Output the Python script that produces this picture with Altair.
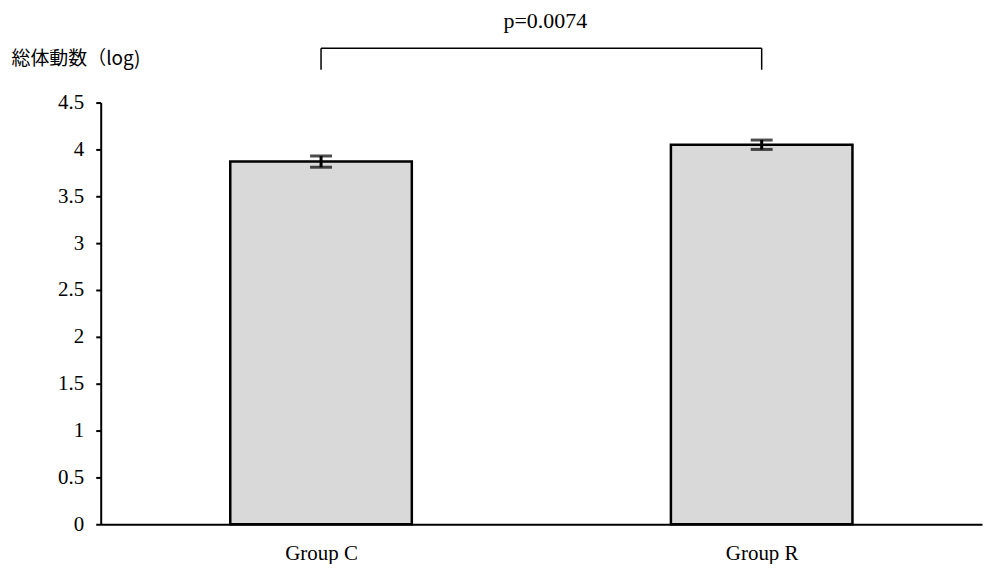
import altair as alt
import pandas as pd

groups = ["Group C", "Group R"]
means = [3.87, 4.05]
errs = [0.06, 0.05]
y_ticks = [0, 0.5, 1, 1.5, 2, 2.5, 3, 3.5, 4, 4.5]
p_label = "p=0.0074"
y_title = "総体動数（log)"

# annotation levels (data units)
bracket_top = 5.08
bracket_bottom = 4.85
p_text_y = 5.30

W = 884
H = 423

df = pd.DataFrame({"group": groups, "mean": means, "err": errs})
df["lo"] = df["mean"] - df["err"]
df["hi"] = df["mean"] + df["err"]

serif = "Liberation Serif"

x_enc = alt.X("group:N", sort=groups,
              scale=alt.Scale(paddingInner=0, paddingOuter=0),
              axis=alt.Axis(title=None, labelFont=serif, labelFontSize=21,
                            labelColor="black", labelPadding=18, labelAngle=0,
                            domainColor="black", domainWidth=2, grid=False,
                            tickBand="extent", ticks=True, tickSize=0,
                            tickColor="black", tickWidth=2))

y_scale = alt.Scale(domain=[0, 4.5], nice=False, zero=True)

bars = alt.Chart(df).mark_bar(
    width=alt.RelativeBandSize(0.412), fill="#d9d9d9", stroke="black", strokeWidth=2.5
).encode(
    x=x_enc,
    y=alt.Y("mean:Q", scale=y_scale,
            axis=alt.Axis(values=y_ticks, format="~g", grid=False,
                          labelFont=serif, labelFontSize=21, labelColor="black",
                          labelPadding=12, tickSize=5, tickColor="black", tickWidth=2,
                          domainColor="black", domainWidth=2,
                          title=y_title, titleAngle=0, titleAlign="left",
                          titleBaseline="alphabetic", titleX=-90, titleY=-38,
                          titleFont="Noto Sans CJK JP", titleFontSize=19,
                          titleFontWeight="normal", titleColor="black")),
)

err_rule = alt.Chart(df).mark_rule(color="black", strokeWidth=3).encode(
    x=alt.X("group:N", sort=groups), y="lo:Q", y2="hi:Q"
)
err_cap_hi = alt.Chart(df).mark_tick(color="black", thickness=3, size=22, orient="horizontal").encode(
    x=alt.X("group:N", sort=groups), y="hi:Q"
)
err_cap_lo = alt.Chart(df).mark_tick(color="black", thickness=3, size=22, orient="horizontal").encode(
    x=alt.X("group:N", sort=groups), y="lo:Q"
)

br_h = pd.DataFrame({"a": [groups[0]], "b": [groups[1]], "y": [bracket_top]})
bracket_h = alt.Chart(br_h).mark_rule(color="black", strokeWidth=1.5).encode(
    x=alt.X("a:N", sort=groups), x2="b:N", y="y:Q"
)
br_v = pd.DataFrame({"group": groups, "y1": [bracket_bottom] * 2, "y2": [bracket_top] * 2})
bracket_v = alt.Chart(br_v).mark_rule(color="black", strokeWidth=1.5).encode(
    x=alt.X("group:N", sort=groups), y="y1:Q", y2="y2:Q"
)
ptext = alt.Chart(pd.DataFrame({"t": [p_label], "y": [p_text_y]})).mark_text(
    font=serif, fontSize=22, color="black", align="center", baseline="alphabetic"
).encode(x=alt.value(W / 2 + 4), y="y:Q", text="t:N")

chart = alt.layer(bars, err_rule, err_cap_hi, err_cap_lo, bracket_h, bracket_v, ptext).properties(
    width=W, height=H, padding={"left": 3, "top": 0, "right": 0, "bottom": 0},
    background="white"
).configure_view(stroke="transparent")

chart.save("out.html", embed_options={"renderer": "svg", "actions": False})
